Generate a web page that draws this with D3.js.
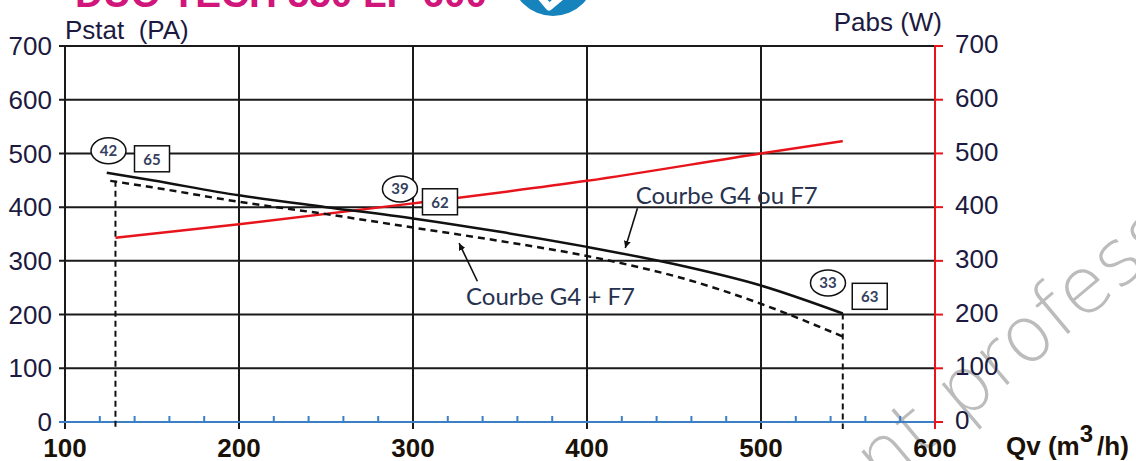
<!DOCTYPE html>
<html>
<head>
<meta charset="utf-8">
<script src="https://cdn.jsdelivr.net/npm/d3@7"></script>
<style>
  html, body { margin: 0; padding: 0; background: #fff; overflow: hidden; }
  svg { display: block; }
</style>
</head>
<body>
<svg id="chart" width="1136" height="461"></svg>
<script>
// ---- axis ticks ----
const qvTicks = [100, 200, 300, 400, 500, 600];
const pTicks = [0, 100, 200, 300, 400, 500, 600, 700];
const qvMinorTicks = [120, 140, 160, 180, 220, 240, 260, 280, 320, 340, 360, 380,
                      420, 440, 460, 480, 520, 540, 560, 580];

// ---- fan curves: Qv (m3/h) -> static pressure (Pa) ----
const qvG4orF7 = [124, 150, 200, 250, 300, 350, 400, 450, 500, 547];
const pstatG4orF7 = [464, 450, 422, 400, 379, 354, 326, 294, 254, 202];
const qvG4plusF7 = [126, 150, 200, 250, 300, 350, 400, 430, 450, 500, 547];
const pstatG4plusF7 = [449, 437, 410, 387, 362, 337, 309, 288, 272, 220, 159];

// ---- absorbed power: Qv (m3/h) -> Pabs (W) ----
const qvPower = [129, 200, 300, 400, 500, 547];
const pabsPower = [343, 368, 407, 449, 500, 523];

// ---- airflow limits (dashed verticals) ----
const limitQv = [129, 547];
const limitPstat = [449, 202];

// ---- noise / setting markers ----
const circleLabels = ["42", "39", "33"];
const circleQv = [125, 292.5, 538.5];
const circlePstat = [505, 434, 259];
const boxLabels = ["65", "62", "63"];
const boxQv = [150, 315.5, 562.5];
const boxPstat = [490, 410, 234];

// ---- curve captions with arrows ----
const captionTexts = ["Courbe G4 ou F7", "Courbe G4 + F7"];
const captionQv = [428, 330.5];
const captionPstat = [406, 218];
const arrowFromQv = [429, 337];
const arrowFromPstat = [398, 262];
const arrowToQv = [422, 326.5];
const arrowToPstat = [324, 333];

const titleText = "DUO TECH 550 LP 600";

// ---- drawing ----
const svg = d3.select("#chart");
svg.append("rect").attr("width", 1136).attr("height", 461).attr("fill", "#fff");

const x = d3.scaleLinear().domain([100, 600]).range([65, 935]);
const yL = d3.scaleLinear().domain([0, 700]).range([422, 46]);
const yR = d3.scaleLinear().domain([0, 700]).range([422, 46]);

const textCol = "#1c1a40";
const gridCol = "#1a1a1a";

// watermark (behind the chart)
svg.append("text")
  .attr("transform", "translate(882,490) rotate(-40)")
  .attr("font-family", "DejaVu Sans, sans-serif").attr("font-weight", 200)
  .attr("font-size", 78).attr("fill", "#bcbcbc")
  .text("nt professi");

// title (runs off the top edge) and logo
svg.append("text")
  .attr("x", 75).attr("y", 7)
  .attr("font-family", "Liberation Sans, Arial, sans-serif")
  .attr("font-weight", "bold").attr("font-size", 38)
  .attr("textLength", 412).attr("lengthAdjust", "spacingAndGlyphs")
  .attr("fill", "#d0157b").text(titleText);

const logo = svg.append("g").attr("transform", "translate(553,-26)");
logo.append("circle").attr("r", 42).attr("fill", "#1683bd");
logo.append("path").attr("d", "M 20 -10 A 42 42 0 0 1 41 10 L 30 16 Z").attr("fill", "#7cbf45");
logo.append("path").attr("d", "M -20 14 L -4 33 L 26 8")
  .attr("fill", "none").attr("stroke", "#fff").attr("stroke-width", 7)
  .attr("stroke-linejoin", "round");

// horizontal grid lines with left ticks
svg.append("g").selectAll("line").data(pTicks.filter(d => d > 0)).join("line")
  .attr("x1", 59).attr("x2", x(600))
  .attr("y1", d => yL(d)).attr("y2", d => yL(d))
  .attr("stroke", gridCol).attr("stroke-width", 2);

// vertical grid lines, extending below the axis
svg.append("g").selectAll("line").data(qvTicks.filter(d => d < 600)).join("line")
  .attr("x1", d => x(d)).attr("x2", d => x(d))
  .attr("y1", yL(700)).attr("y2", yL(0) + 7)
  .attr("stroke", gridCol).attr("stroke-width", 2);

// bottom axis: blue base line and minor ticks
svg.append("line")
  .attr("x1", 59).attr("x2", x(600)).attr("y1", yL(0)).attr("y2", yL(0))
  .attr("stroke", "#3b7fc4").attr("stroke-width", 2);
svg.append("g").selectAll("line").data(qvMinorTicks).join("line")
  .attr("x1", d => x(d)).attr("x2", d => x(d))
  .attr("y1", yL(0)).attr("y2", yL(0) - 6)
  .attr("stroke", "#3b7fc4").attr("stroke-width", 2);

// right axis (power) in red
svg.append("line")
  .attr("x1", x(600)).attr("x2", x(600)).attr("y1", yR(700) - 1).attr("y2", yR(0) + 7)
  .attr("stroke", "#e8141c").attr("stroke-width", 2);
svg.append("g").selectAll("line").data(pTicks).join("line")
  .attr("x1", x(600) - 1).attr("x2", x(600) + 8)
  .attr("y1", d => yR(d)).attr("y2", d => yR(d))
  .attr("stroke", "#e8141c").attr("stroke-width", 2);

// tick labels
const labelFont = "Liberation Sans, Arial, sans-serif";
svg.append("g").selectAll("text").data(pTicks).join("text")
  .attr("x", 52).attr("y", d => yL(d)).attr("dy", "0.35em")
  .attr("text-anchor", "end").attr("font-family", labelFont).attr("font-size", 26)
  .attr("fill", textCol).text(d => d);
svg.append("g").selectAll("text").data(pTicks).join("text")
  .attr("x", 955).attr("y", d => yR(d) - 2).attr("dy", "0.35em")
  .attr("text-anchor", "start").attr("font-family", labelFont).attr("font-size", 26)
  .attr("fill", textCol).text(d => d);
svg.append("g").selectAll("text").data(qvTicks).join("text")
  .attr("x", d => x(d)).attr("y", 457)
  .attr("text-anchor", "middle").attr("font-family", labelFont)
  .attr("font-weight", "bold").attr("font-size", 26)
  .attr("fill", "#1a1208").text(d => d);

// axis titles
svg.append("text").attr("x", 65).attr("y", 39)
  .attr("font-family", labelFont).attr("font-size", 26).attr("fill", textCol)
  .style("white-space", "pre")
  .text("Pstat  (PA)");
svg.append("text").attr("x", 942).attr("y", 31).attr("text-anchor", "end")
  .attr("font-family", labelFont).attr("font-size", 26).attr("fill", textCol)
  .text("Pabs (W)");
const qvTitle = svg.append("text").attr("x", 1006).attr("y", 455)
  .attr("font-family", labelFont).attr("font-weight", "bold").attr("font-size", 26)
  .attr("fill", "#1a1208");
qvTitle.append("tspan").text("Qv (m");
qvTitle.append("tspan").attr("dy", -13).attr("font-size", 24).text("3");
qvTitle.append("tspan").attr("dy", 13).attr("dx", 4).text("/h)");

// curves
const lineP = (qs, ps, yScale) => d3.line()
  .x(d => x(d[0])).y(d => yScale(d[1]))
  .curve(d3.curveMonotoneX)(d3.zip(qs, ps));

// airflow limit verticals
svg.append("g").selectAll("line").data(d3.zip(limitQv, limitPstat)).join("line")
  .attr("x1", d => x(d[0])).attr("x2", d => x(d[0]))
  .attr("y1", d => yL(d[1])).attr("y2", yL(0) + 7)
  .attr("stroke", "#111").attr("stroke-width", 2).attr("stroke-dasharray", "6,4");

svg.append("path").attr("d", lineP(qvPower, pabsPower, yR))
  .attr("fill", "none").attr("stroke", "#e8141c").attr("stroke-width", 2.5);
svg.append("path").attr("d", lineP(qvG4plusF7, pstatG4plusF7, yL))
  .attr("fill", "none").attr("stroke", "#111").attr("stroke-width", 2.5)
  .attr("stroke-dasharray", "7,5");
svg.append("path").attr("d", lineP(qvG4orF7, pstatG4orF7, yL))
  .attr("fill", "none").attr("stroke", "#111").attr("stroke-width", 2.5);

// markers: circled and boxed values
const markFont = "Lato, Open Sans, sans-serif";
const circ = svg.append("g").selectAll("g").data(d3.zip(circleQv, circlePstat, circleLabels)).join("g")
  .attr("transform", d => `translate(${x(d[0])},${yL(d[1])})`);
circ.append("ellipse").attr("rx", 17.5).attr("ry", 13)
  .attr("fill", "#fff").attr("stroke", "#111").attr("stroke-width", 1.5);
circ.append("text").attr("text-anchor", "middle").attr("dy", "0.36em")
  .attr("font-family", markFont).attr("font-weight", "bold").attr("font-size", 15)
  .attr("fill", "#34405e").text(d => d[2]);

const box = svg.append("g").selectAll("g").data(d3.zip(boxQv, boxPstat, boxLabels)).join("g")
  .attr("transform", d => `translate(${x(d[0])},${yL(d[1])})`);
box.append("rect").attr("x", -17.5).attr("y", -13).attr("width", 35).attr("height", 26)
  .attr("fill", "#fff").attr("stroke", "#111").attr("stroke-width", 1.5);
box.append("text").attr("text-anchor", "middle").attr("dy", "0.4em")
  .attr("font-family", markFont).attr("font-weight", "bold").attr("font-size", 15)
  .attr("fill", "#34405e").text(d => d[2]);

// captions with arrows
svg.append("defs").append("marker")
  .attr("id", "arrowhead").attr("viewBox", "0 0 10 10")
  .attr("refX", 10).attr("refY", 5)
  .attr("markerWidth", 7).attr("markerHeight", 7)
  .attr("markerUnits", "userSpaceOnUse")
  .attr("orient", "auto")
  .append("path").attr("d", "M0,0 L10,5 L0,10 Z").attr("fill", "#111");

svg.append("g").selectAll("line")
  .data(d3.zip(arrowFromQv, arrowFromPstat, arrowToQv, arrowToPstat)).join("line")
  .attr("x1", d => x(d[0])).attr("y1", d => yL(d[1]))
  .attr("x2", d => x(d[2])).attr("y2", d => yL(d[3]))
  .attr("stroke", "#111").attr("stroke-width", 1.6)
  .attr("marker-end", "url(#arrowhead)");

svg.append("g").selectAll("text").data(d3.zip(captionQv, captionPstat, captionTexts)).join("text")
  .attr("x", d => x(d[0])).attr("y", d => yL(d[1]))
  .attr("font-family", markFont).attr("font-size", 24)
  .attr("fill", "#27324f").text(d => d[2]);
</script>
</body>
</html>
